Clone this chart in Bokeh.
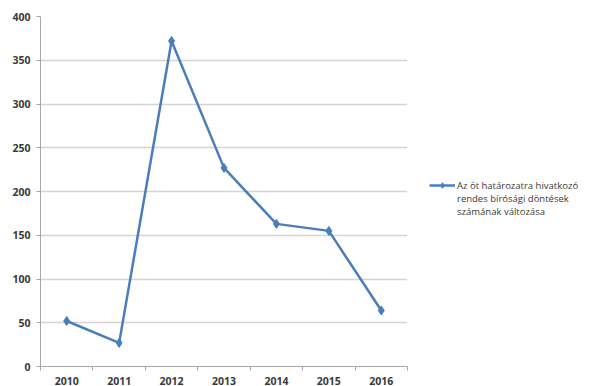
from bokeh.plotting import figure
from bokeh.models import Range1d, FixedTicker, Legend, LegendItem
from bokeh.embed import file_html
from bokeh.resources import INLINE

# Data
years = ["2010", "2011", "2012", "2013", "2014", "2015", "2016"]
decisions = [52, 27, 372, 227, 163, 155, 64]
y_ticks = [0, 50, 100, 150, 200, 250, 300, 350, 400]
label_first = "Az öt határozatra hivatkozó"
label_rest = "rendes bírósági döntések\nszámának változása"

LINE_BLUE = "#4a7ebb"
FONT = "Open Sans"

x_pos = list(range(len(years)))

p = figure(
    frame_width=367, frame_height=350,
    min_border_left=40, min_border_right=192,
    min_border_top=16, min_border_bottom=20,
    x_range=Range1d(-0.5, len(years) - 0.5),
    y_range=Range1d(0, 400),
    output_backend="svg", toolbar_location=None,
    background_fill_color="white", border_fill_color="white",
)
p.outline_line_color = None

# Horizontal gridlines only
p.xgrid.grid_line_color = None
p.ygrid.grid_line_color = "#d4d4d4"
p.ygrid.grid_line_width = 1.3

# Y axis
p.yaxis.ticker = FixedTicker(ticks=y_ticks)
p.yaxis.axis_line_color = "#a6a6a6"
p.yaxis.major_tick_line_color = "#a6a6a6"
p.yaxis.major_tick_out = 4
p.yaxis.major_tick_in = 0
p.yaxis.minor_tick_line_color = None
p.yaxis.major_label_standoff = 6
p.yaxis.major_label_text_font = FONT
p.yaxis.major_label_text_font_size = "10.5px"
p.yaxis.major_label_text_font_style = "bold"
p.yaxis.major_label_text_color = "#3a3a3a"

# X axis: labels centred on each year, small marks at the boundaries
p.xaxis.ticker = FixedTicker(ticks=x_pos, minor_ticks=[i - 0.5 for i in range(len(years) + 1)])
p.xaxis.major_label_overrides = {i: y for i, y in zip(x_pos, years)}
p.xaxis.axis_line_color = "#a6a6a6"
p.xaxis.major_tick_line_color = None
p.xaxis.major_tick_out = 0
p.xaxis.major_tick_in = 0
p.xaxis.minor_tick_line_color = "#a6a6a6"
p.xaxis.minor_tick_out = 4
p.xaxis.minor_tick_in = 0
p.xaxis.major_label_standoff = 6
p.xaxis.major_label_text_font = FONT
p.xaxis.major_label_text_font_size = "10.5px"
p.xaxis.major_label_text_font_style = "bold"
p.xaxis.major_label_text_color = "#3a3a3a"

# Series
line = p.line(x_pos, decisions, line_color=LINE_BLUE, line_width=2.5)
pts = p.scatter(x_pos, decisions, marker="diamond", size=9,
                fill_color=LINE_BLUE, line_color=LINE_BLUE)

# Invisible glyph so the continuation lines of the legend align with the first
blank = p.line([], [], line_alpha=0)

legend = Legend(
    items=[
        LegendItem(label=label_first, renderers=[line, pts]),
        LegendItem(label=label_rest, renderers=[blank]),
    ],
    location=(22, 148),
    padding=0, margin=0, spacing=0,
    glyph_width=26, glyph_height=14, label_standoff=2, label_height=14,
    border_line_color=None, background_fill_alpha=0,
    label_text_font=FONT, label_text_font_size="9.5px",
    label_text_color="#3a3a3a", label_text_line_height=1.45,
)
p.add_layout(legend, "right")

open("out.html", "w").write(file_html(p, INLINE))
